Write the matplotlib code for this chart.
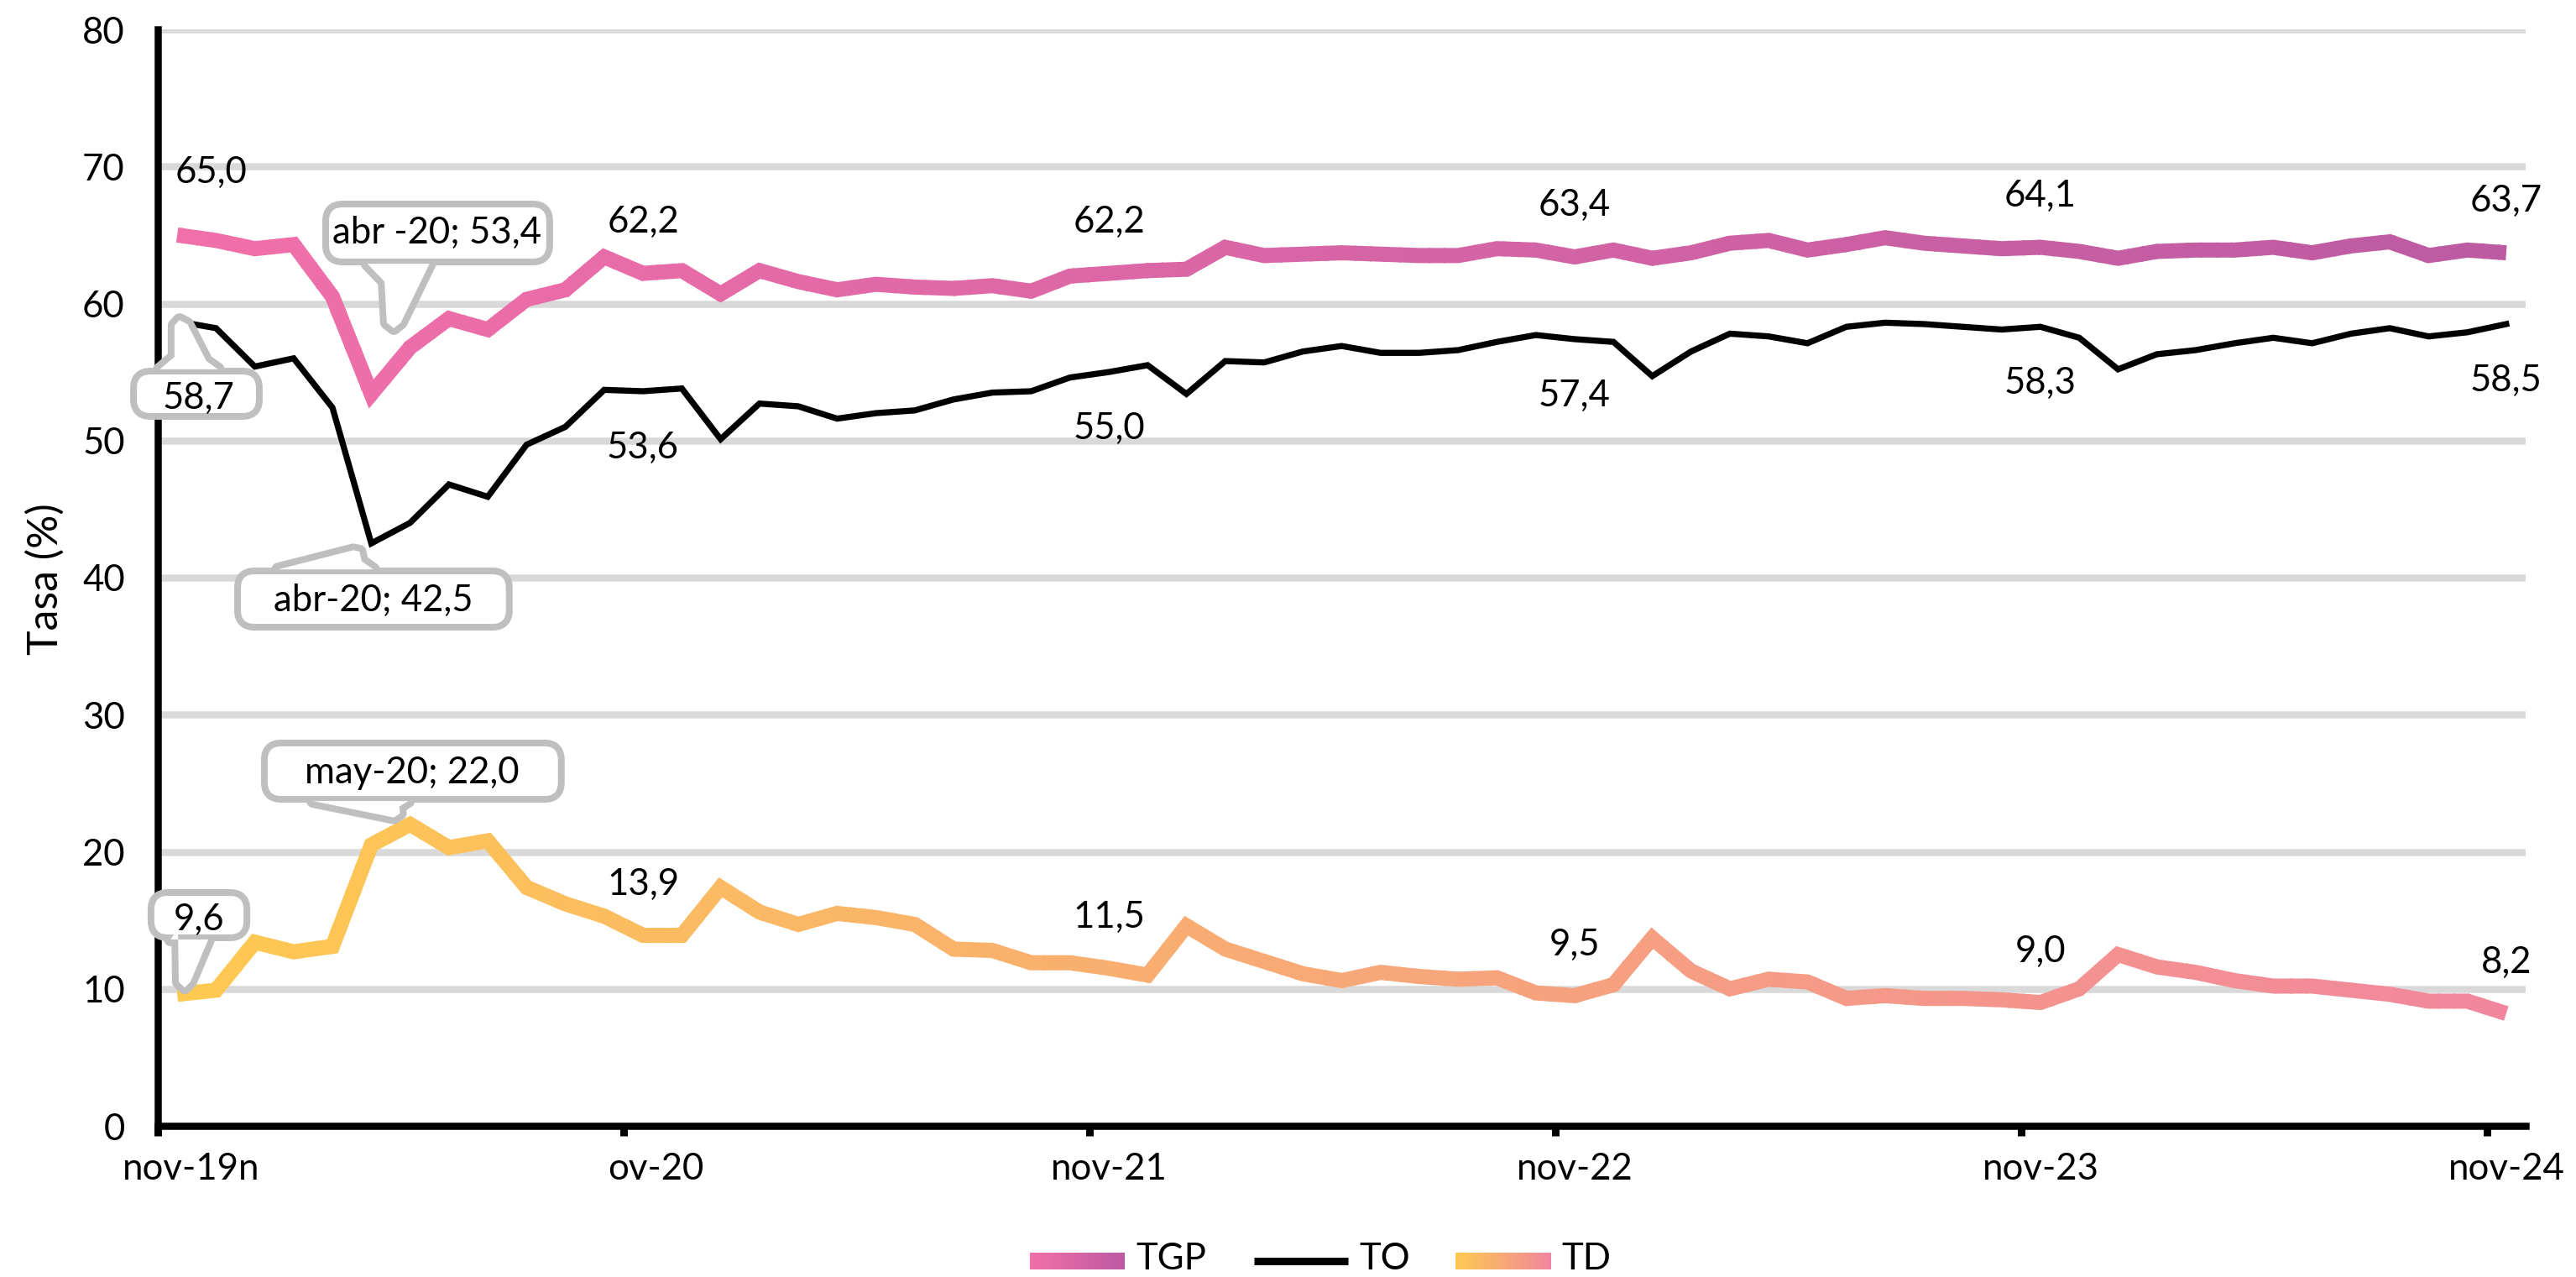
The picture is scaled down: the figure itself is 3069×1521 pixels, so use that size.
import numpy as np
import matplotlib
matplotlib.use("Agg")
import matplotlib.pyplot as plt
from matplotlib.patches import Rectangle, FancyBboxPatch, Polygon
from matplotlib.transforms import IdentityTransform
from matplotlib.colors import to_rgb, LinearSegmentedColormap
from matplotlib.lines import Line2D

plt.rcParams['font.family'] = ['Lato', 'DejaVu Sans']
plt.rcParams['text.color'] = 'black'
FW = 'normal'

# ---------------- data ----------------
months = ['nov', 'dic', 'ene', 'feb', 'mar', 'abr', 'may', 'jun', 'jul', 'ago', 'sep', 'oct']
categories = [f"{months[k % 12]}-{19 + (k + 2) // 12}" for k in range(61)]

tgp = [65.0, 64.6, 64.0, 64.3, 60.5, 53.4, 56.8, 58.9, 58.1, 60.3, 61.0, 63.4,
       62.2, 62.4, 60.7, 62.4, 61.6, 61.0, 61.4, 61.2, 61.1, 61.3, 60.9, 62.0,
       62.2, 62.4, 62.5, 64.1, 63.5, 63.6, 63.7, 63.6, 63.5, 63.5, 64.0, 63.9,
       63.4, 63.9, 63.3, 63.7, 64.4, 64.6, 63.9, 64.3, 64.8, 64.4, 64.2, 64.0,
       64.1, 63.8, 63.3, 63.8, 63.9, 63.9, 64.1, 63.7, 64.2, 64.5, 63.5, 63.9,
       63.7]
to = [58.7, 58.2, 55.4, 56.0, 52.4, 42.5, 44.0, 46.8, 45.9, 49.7, 51.0, 53.7,
      53.6, 53.8, 50.1, 52.7, 52.5, 51.6, 52.0, 52.2, 53.0, 53.5, 53.6, 54.6,
      55.0, 55.5, 53.4, 55.8, 55.7, 56.5, 56.9, 56.4, 56.4, 56.6, 57.2, 57.7,
      57.4, 57.2, 54.7, 56.5, 57.8, 57.6, 57.1, 58.3, 58.6, 58.5, 58.3, 58.1,
      58.3, 57.5, 55.2, 56.3, 56.6, 57.1, 57.5, 57.1, 57.8, 58.2, 57.6, 57.9,
      58.5]
td = [9.6, 9.9, 13.4, 12.7, 13.1, 20.5, 22.0, 20.3, 20.8, 17.4, 16.2, 15.3,
      13.9, 13.9, 17.4, 15.6, 14.7, 15.5, 15.2, 14.7, 12.9, 12.8, 11.9, 11.9,
      11.5, 11.0, 14.6, 12.9, 12.0, 11.1, 10.6, 11.2, 10.9, 10.7, 10.8, 9.7,
      9.5, 10.3, 13.7, 11.3, 10.0, 10.7, 10.5, 9.3, 9.5, 9.3, 9.3, 9.2,
      9.0, 10.0, 12.5, 11.6, 11.2, 10.6, 10.2, 10.2, 9.9, 9.6, 9.1, 9.1,
      8.2]

xtick_labels = ['nov-19n', 'ov-20', 'nov-21', 'nov-22', 'nov-23', 'nov-24']
xtick_label_pos = [0.86, 12.82, 24.5, 36.5, 48.5, 60.5]
labelled_idx = [12, 24, 36, 48, 60]

TGP_C = ('#F270A9', '#BC5AA2')
TD_C = ('#FECA50', '#F1869E')
GRID = '#d9d9d9'
CALLOUT_EDGE = '#bfbfbf'

PX = 72 / 300.0  # points per pixel

def fmt(v):
    return f"{v:.1f}".replace('.', ',')

# ---------------- figure ----------------
W, H = 3069, 1521
fig = plt.figure(figsize=(W / 300, H / 300), dpi=300)
ax = fig.add_axes([188 / W, 180 / H, (3009 - 188) / W, (1341 - 35) / H])
ax.set_xlim(0, 61)
ax.set_ylim(0, 80)

x = np.arange(len(categories)) + 0.5

for s in ('top', 'right'):
    ax.spines[s].set_visible(False)
for s in ('left', 'bottom'):
    ax.spines[s].set_linewidth(8.5 * PX)
    ax.spines[s].set_color('black')
    ax.spines[s].set_zorder(6)

ax.set_yticks(np.arange(0, 81, 10))
ax.tick_params(axis='y', length=0, pad=9.4, labelsize=10.5, labelcolor='black')
for t in ax.get_yticklabels():
    t.set_fontweight(FW)
ax.grid(axis='y', color=GRID, lw=8.5 * PX)
ax.set_axisbelow(True)

ax.set_xticks([0, 12, 24, 36, 48, 60])
ax.set_xticklabels([])
ax.tick_params(axis='x', direction='out', length=12 * PX, width=9 * PX, color='black')
for lab, pos in zip(xtick_labels, xtick_label_pos):
    ax.annotate(lab, xy=(pos, 0), xycoords=('data', 'axes fraction'),
                xytext=(0, -64 * PX), textcoords='offset points',
                ha='center', va='baseline', fontsize=10.5, fontweight=FW,
                annotation_clip=False)


def gradient_line(xv, yv, c0, c1, lw, z, n=160):
    c0 = np.array(to_rgb(c0))
    c1 = np.array(to_rgb(c1))
    edges = np.linspace(xv[0] - 0.6, xv[-1] + 0.6, n + 1)
    for k in range(n):
        t = k / (n - 1)
        col = (1 - t) * c0 + t * c1
        ln, = ax.plot(xv, yv, color=col, lw=lw, solid_joinstyle='miter',
                      solid_capstyle='butt', zorder=z)
        rect = Rectangle((edges[k] - 0.05, -50), edges[k + 1] - edges[k] + 0.05, 200,
                         transform=ax.transData)
        ln.set_clip_path(rect)


gradient_line(x, tgp, *TGP_C, lw=18 * PX, z=3)
ax.plot(x, to, color='black', lw=7.3 * PX, solid_joinstyle='miter', zorder=4)
gradient_line(x, td, *TD_C, lw=18 * PX, z=3)

# value labels
for i in labelled_idx:
    ax.annotate(fmt(tgp[i]), xy=(x[i], tgp[i]), xytext=(0, 49 * PX), textcoords='offset points',
                ha='center', va='baseline', fontsize=10.5, fontweight=FW, zorder=8)
    ax.annotate(fmt(to[i]), xy=(x[i], to[i]), xytext=(0, -80 * PX), textcoords='offset points',
                ha='center', va='baseline', fontsize=10.5, fontweight=FW, zorder=8)
    ax.annotate(fmt(td[i]), xy=(x[i], td[i]), xytext=(0, 48 * PX), textcoords='offset points',
                ha='center', va='baseline', fontsize=10.5, fontweight=FW, zorder=8)
ax.annotate(fmt(tgp[0]), xy=(x[0], tgp[0]), xytext=(40 * PX, 62 * PX), textcoords='offset points',
            ha='center', va='baseline', fontsize=10.5, fontweight=FW, zorder=8)


def callout(text, box, tail, text_xy):
    """box = (x_left, x_right, y_bottom, y_top) in data units; tail = data vertices."""
    (px0, py0) = ax.transData.transform((box[0], box[2]))
    (px1, py1) = ax.transData.transform((box[1], box[3]))
    ins = 7
    bx, by, bw, bh = px0 + ins, py0 + ins, (px1 - px0) - 2 * ins, (py1 - py0) - 2 * ins
    tail_px = ax.transData.transform(np.array(tail))
    lw = 16 * PX
    style = 'round,pad=0,rounding_size=16'
    for ec, fc, z, w in ((CALLOUT_EDGE, CALLOUT_EDGE, 10, lw), ('none', 'white', 11, 0)):
        b = FancyBboxPatch((bx, by), bw, bh, boxstyle=style, transform=IdentityTransform(),
                           ec=ec, fc=fc, lw=w, zorder=z, clip_on=False, joinstyle='round')
        p = Polygon(tail_px, closed=True, transform=IdentityTransform(), ec=ec, fc=fc,
                    lw=w, zorder=z, clip_on=False, joinstyle='round')
        ax.add_artist(b)
        ax.add_artist(p)
    ax.text(text_xy[0], text_xy[1], text, ha='center', va='baseline', fontsize=10.5,
            fontweight=FW, zorder=12, clip_on=False)


callout(f"abr -20; {fmt(tgp[5])}", (4.26, 10.16, 62.85, 67.44),
        [(5.40, 62.9), (5.84, 61.6), (5.90, 58.6), (6.08, 58.2), (6.26, 58.6), (7.0, 62.9)],
        (7.18, 64.38))
callout(fmt(to[0]), (-0.69, 2.68, 51.58, 55.25),
        [(0.05, 55.2), (0.43, 56.1), (0.43, 58.4), (0.56, 58.8), (0.76, 58.5), (1.25, 55.8), (1.55, 55.2)],
        (1.04, 52.31))
callout(f"abr-20; {fmt(to[5])}", (1.99, 9.12, 36.2, 40.67),
        [(3.1, 40.6), (5.04, 42.0), (5.20, 41.9), (5.25, 41.2), (5.55, 40.6)],
        (5.56, 37.55))
callout(f"may-20; {fmt(td[6])}", (2.68, 10.46, 23.64, 28.12),
        [(4.0, 23.7), (6.08, 22.5), (6.24, 22.8), (6.22, 23.3), (6.45, 23.7)],
        (6.55, 24.99))
callout(fmt(td[0]), (-0.24, 2.36, 13.54, 17.21),
        [(0.33, 13.6), (0.52, 14.4), (0.54, 10.5), (0.69, 10.1), (0.84, 10.5), (1.30, 13.6)],
        (1.06, 14.27))

# axis title
fig.text(54 / W, 1 - 690 / H, 'Tasa (%)', rotation=90, ha='center', va='center',
         fontsize=12, fontweight=FW)

# legend
def swatch(x0, x1, c0, c1):
    sax = fig.add_axes([x0 / W, 1 - 1512 / H, (x1 - x0) / W, 20 / H])
    cmap = LinearSegmentedColormap.from_list('g', [c0, c1])
    sax.imshow(np.linspace(0, 1, 256)[None, :], cmap=cmap, aspect='auto')
    sax.axis('off')

swatch(1227, 1340, *TGP_C)
fig.text(1353 / W, 1 - 1512 / H, 'TGP', ha='left', va='baseline', fontsize=10.5, fontweight=FW)
fig.add_artist(Line2D([1494 / W, 1606 / W], [1 - 1502 / H] * 2, color='black', lw=9 * PX,
                      transform=fig.transFigure, solid_capstyle='butt'))
fig.text(1619 / W, 1 - 1512 / H, 'TO', ha='left', va='baseline', fontsize=10.5, fontweight=FW)
swatch(1734, 1848, *TD_C)
fig.text(1860 / W, 1 - 1512 / H, 'TD', ha='left', va='baseline', fontsize=10.5, fontweight=FW)

fig.savefig('out.png', dpi=300, facecolor='white')
